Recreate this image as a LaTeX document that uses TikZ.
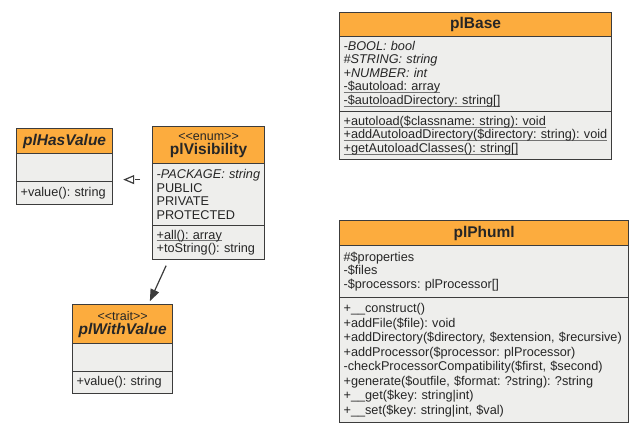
\documentclass[tikz,border=0pt]{standalone}
\usepackage{fontspec}
\setmainfont{Liberation Sans}
\usetikzlibrary{arrows.meta}
\definecolor{headfill}{HTML}{FCAC3E}
\definecolor{bodyfill}{HTML}{EEEEEC}
\definecolor{linecol}{HTML}{3C3C3C}
\definecolor{textcol}{HTML}{262626}
\frenchspacing
\newcommand\umlstereo[1]{{\fontsize{12.5}{12}\selectfont\mdseries<\kern0pt<#1>\kern0pt>}}
\newcommand\umlstatic[1]{\leavevmode\setbox0=\hbox{#1}\rlap{\color{black!55}\rule[-2.2pt]{\wd0}{0.9pt}}\box0}

\begin{document}
\begin{tikzpicture}[x=1pt,y=-1pt,line width=1.2pt,
      class head/.style 2 args={draw=linecol,fill=headfill,anchor=north west,inner sep=0pt,
        minimum width=#1,minimum height=#2,align=center,text=textcol,
        font=\fontsize{15.5}{15}\selectfont\bfseries},
      class body/.style 2 args={draw=linecol,fill=bodyfill,anchor=north west,inner xsep=4pt,inner ysep=0pt,
        text width=#1,minimum height=#2,align=left,text=textcol,
        font=\fontsize{12.7}{13.6}\selectfont},
      realize edge/.style={draw=linecol,dash pattern=on 5pt off 3pt,-{Triangle[open,length=11pt,width=9pt]}},
      use edge/.style={draw=linecol,-{Triangle[length=12pt,width=9pt,fill=linecol]}}]

      \useasboundingbox (0,0) rectangle (644,433);

      % plBase
      \node[class head={272pt}{24pt}] (basehead) at (339,12) {plBase};
      \node[class body={264pt}{75pt}] (baseattr) at (339,36) {\textit{-BOOL: bool}\\
        \textit{\#STRING: string}\\
        \textit{+NUMBER: int}\\
        \umlstatic{-\$autoload: array}\\
        \umlstatic{-\$autoloadDirectory: string[]}};
      \node[class body={264pt}{48pt}] (basemeth) at (339,111) {\umlstatic{+autoload(\$classname: string): void}\\
        \umlstatic{+addAutoloadDirectory(\$directory: string): void}\\
        \umlstatic{+getAutoloadClasses(): string[]}};

      % plPhuml
      \node[class head={289pt}{25pt}] (phumlhead) at (339,220) {plPhuml};
      \node[class body={281pt}{52pt}] (phumlattr) at (339,245) {\#\$properties\\
        -\$files\\
        -\$processors: plProcessor[]};
      \node[class body={281pt}{125pt},font=\fontsize{12.7}{14.5}\selectfont] (phumlmeth) at (339,297) {+\_\_construct()\\
        +addFile(\$file): void\\
        +addDirectory(\$directory, \$extension, \$recursive)\\
        +addProcessor(\$processor: plProcessor)\\
        -checkProcessorCompatibility(\$first, \$second)\\
        +generate(\$outfile, \$format: ?string): ?string\\
        +\_\_get(\$key: string|int)\\
        +\_\_set(\$key: string|int, \$val)};

      % plHasValue
      \node[class head={96pt}{25pt}] (hvhead) at (16,128) {\itshape plHasValue};
      \node[class body={88pt}{28pt}] (hvattr) at (16,153) {};
      \node[class body={88pt}{23pt}] (hvmeth) at (16,181) {+value(): string};

      % plVisibility
      \node[class head={112pt}{37pt}] (vishead) at (152,126) {\umlstereo{enum}\\[-1pt] plVisibility};
      \node[class body={104pt}{62pt}] (visattr) at (152,163) {\textit{-PACKAGE: string}\\
        PUBLIC\\
        PRIVATE\\
        PROTECTED};
      \node[class body={104pt}{34pt}] (vismeth) at (152,225) {\umlstatic{+all(): array}\\
        +toString(): string};

      % plWithValue
      \node[class head={100pt}{39pt}] (wvhead) at (72,304) {\umlstereo{trait}\\[-1pt] \itshape plWithValue};
      \node[class body={92pt}{28pt}] (wvattr) at (72,343) {};
      \node[class body={92pt}{22pt}] (wvmeth) at (72,371) {+value(): string};

      \draw[realize edge,shorten <=12pt,shorten >=10pt] ([yshift=15pt]visattr.west) -- ([yshift=-12pt]hvattr.east);
      \draw[use edge,shorten <=6pt,shorten >=3pt] ([xshift=-40pt]vismeth.south) -- ([xshift=26pt]wvhead.north);
    \end{tikzpicture}
\end{document}
